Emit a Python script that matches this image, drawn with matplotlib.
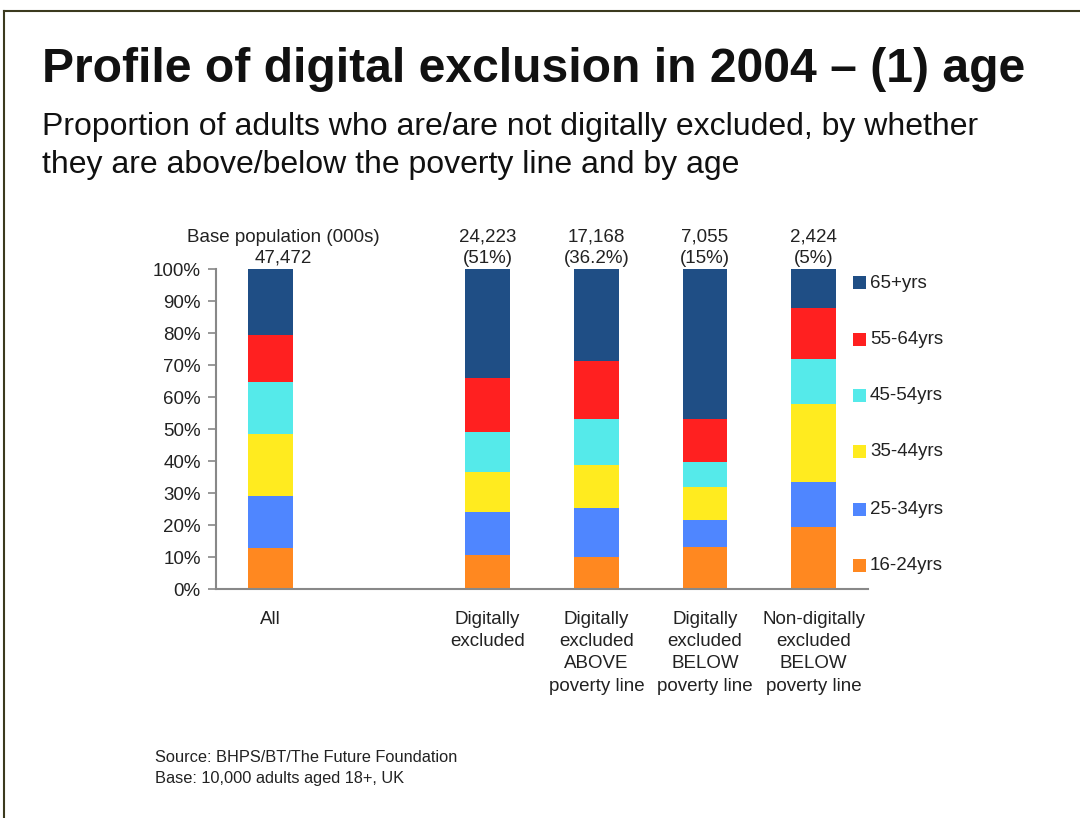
import matplotlib
matplotlib.use("Agg")
import matplotlib.pyplot as plt
from matplotlib.lines import Line2D
from matplotlib.patches import Rectangle
import numpy as np

plt.rcParams['font.family'] = ['Liberation Sans', 'DejaVu Sans']

# data (% of each group)
groups = ["All", "Digitally\nexcluded", "Digitally\nexcluded\nABOVE\npoverty line",
          "Digitally\nexcluded\nBELOW\npoverty line", "Non-digitally\nexcluded\nBELOW\npoverty line"]
x_pos = [0, 2, 3, 4, 5]
base_counts = ["47,472", "24,223", "17,168", "7,055", "2,424"]
base_shares = ["", "(51%)", "(36.2%)", "(15%)", "(5%)"]

age_bands = ["16-24yrs", "25-34yrs", "35-44yrs", "45-54yrs", "55-64yrs", "65+yrs"]
age_16_24 = [12.9, 10.7, 9.9, 13.2, 19.5]
age_25_34 = [16.2, 13.4, 15.3, 8.4, 14.0]
age_35_44 = [19.4, 12.5, 13.6, 10.3, 24.4]
age_45_54 = [16.1, 12.5, 14.4, 7.9, 14.0]
age_55_64 = [14.7, 16.9, 17.9, 13.4, 15.9]
age_65_up = [20.7, 34.0, 28.9, 46.8, 12.2]
series = [age_16_24, age_25_34, age_35_44, age_45_54, age_55_64, age_65_up]
colors = ["#FF8820", "#4F86FF", "#FFEB1F", "#55EAEA", "#FF2020", "#1F4E85"]

FS = 13.5
TXT = "#222222"

fig = plt.figure(figsize=(10.8, 8.18), dpi=100)
ax = fig.add_axes([216 / 1080, 1 - 589 / 818, (868 - 216) / 1080, 320 / 818])

bottom = np.zeros(len(x_pos))
for vals, col in zip(series, colors):
    ax.bar(x_pos, vals, width=0.41, bottom=bottom, color=col, linewidth=0)
    bottom += np.array(vals)

ax.set_xlim(-0.5, 5.5)
ax.set_ylim(0, 100)
ax.set_yticks(range(0, 101, 10))
ax.set_yticklabels([f"{v}%" for v in range(0, 101, 10)], fontsize=FS, color=TXT)
ax.tick_params(axis='y', length=6, color="#888888", width=1.2, pad=5)
ax.set_xticks([])
for s in ["top", "right"]:
    ax.spines[s].set_visible(False)
for s in ["left", "bottom"]:
    ax.spines[s].set_color("#888888")
    ax.spines[s].set_linewidth(1.5)

# base population labels above bars
ax.text(0.12, 110, "Base population (000s)", ha="center", va="center", fontsize=FS, color=TXT)
for xp, cnt, sh in zip(x_pos, base_counts, base_shares):
    if sh:
        ax.text(xp, 110, cnt, ha="center", va="center", fontsize=FS, color=TXT)
        ax.text(xp, 103.4, sh, ha="center", va="center", fontsize=FS, color=TXT)
    else:
        ax.text(xp + 0.12, 103.4, cnt, ha="center", va="center", fontsize=FS, color=TXT)

# category labels under bars
for xp, g in zip(x_pos, groups):
    ax.text(xp, -6.9, g, ha="center", va="top", fontsize=FS, color=TXT, linespacing=1.4)

# legend, top to bottom
leg_y = [283, 340, 396, 452, 510, 566]
for lab, col, yy in zip(age_bands[::-1], colors[::-1], leg_y):
    fig.patches.append(Rectangle((853 / 1080, 1 - (yy + 6) / 818), 13 / 1080, 13 / 818,
                                 transform=fig.transFigure, color=col, linewidth=0))
    fig.text(870 / 1080, 1 - yy / 818, lab, ha="left", va="center", fontsize=FS, color=TXT)

# titles
fig.text(42 / 1080, 1 - 69 / 818, "Profile of digital exclusion in 2004 \u2013 (1) age",
         fontsize=34.6, fontweight="bold", ha="left", va="center", color="#111111")
fig.text(42 / 1080, 1 - 127 / 818, "Proportion of adults who are/are not digitally excluded, by whether",
         fontsize=23, ha="left", va="center", color="#111111")
fig.text(42 / 1080, 1 - 165 / 818, "they are above/below the poverty line and by age",
         fontsize=23, ha="left", va="center", color="#111111")

# source notes
fig.text(155 / 1080, 1 - 758 / 818, "Source: BHPS/BT/The Future Foundation", fontsize=11.8, ha="left", va="center", color=TXT)
fig.text(155 / 1080, 1 - 779 / 818, "Base: 10,000 adults aged 18+, UK", fontsize=11.8, ha="left", va="center", color=TXT)

# slide frame
fig.lines.append(Line2D([4 / 1080, 4 / 1080], [0, 1 - 11 / 818], transform=fig.transFigure, color="#3B3A1E", linewidth=1.5))
fig.lines.append(Line2D([4 / 1080, 1], [1 - 11 / 818, 1 - 11 / 818], transform=fig.transFigure, color="#3B3A1E", linewidth=1.5))

fig.savefig("out.png", dpi=100)
